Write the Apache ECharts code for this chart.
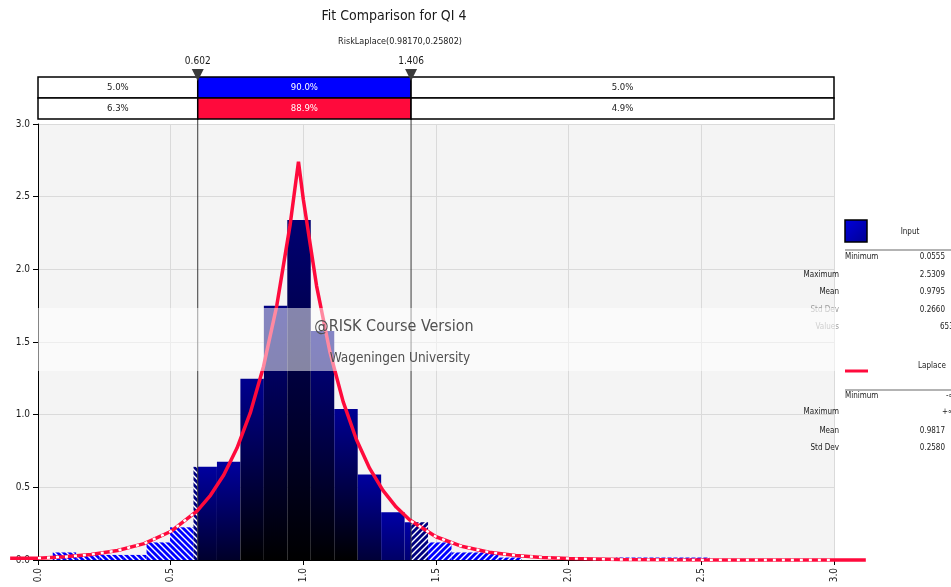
<!DOCTYPE html>
<html>
<head>
<meta charset="utf-8">
<script src="https://cdn.jsdelivr.net/npm/echarts@6/dist/echarts.min.js"></script>
<style>
html, body { margin: 0; padding: 0; background: #fff; }
#chart { width: 951px; height: 587px; }
</style>
</head>
<body>
<div id="chart"></div>
<script>
// histogram of input data (density per bin)
var binEdges = [0.0555, 0.1439, 0.2323, 0.3208, 0.4092, 0.4976, 0.5860, 0.6744, 0.7628, 0.8512,
    0.9396, 1.0280, 1.1165, 1.2049, 1.2933, 1.3817, 1.4701, 1.5585, 1.6469, 1.7353,
    1.8237, 1.9122, 2.0006, 2.0890, 2.1774, 2.2658, 2.3542, 2.4426, 2.5309];
var binDensity = [0.052, 0.035, 0.035, 0.035, 0.121, 0.225, 0.641, 0.676, 1.247, 1.750,
    2.339, 1.576, 1.039, 0.589, 0.329, 0.260, 0.121, 0.052, 0.052, 0.017,
    0, 0, 0, 0, 0.017, 0.017, 0.017, 0.017];

// fitted Laplace curve (first and last points lie outside the axis)
var fitX = [-0.105, 0, 0.1, 0.2, 0.3, 0.4, 0.5, 0.6, 0.602, 0.65, 0.7, 0.75, 0.8, 0.85, 0.9, 0.95, 0.9817,
    1.0, 1.05, 1.1, 1.15, 1.2, 1.25, 1.3, 1.35, 1.4, 1.406, 1.5, 1.6, 1.7, 1.8, 1.9, 2.0,
    2.2, 2.4, 2.6, 2.8, 3.0, 3.12];
var fitY = [0.012, 0.0126, 0.0218, 0.0378, 0.0653, 0.113, 0.196, 0.338, 0.342, 0.445, 0.585, 0.770, 1.012, 1.332, 1.751, 2.304, 2.741,
    2.480, 1.885, 1.433, 1.090, 0.829, 0.630, 0.479, 0.364, 0.277, 0.268, 0.160, 0.0925, 0.0535, 0.0309, 0.0179, 0.0103,
    0.0035, 0.0012, 0.0004, 0.0001, 0.00004, 0.00002];

var delimiters = [0.602, 1.406];
var delimLabels = ['0.602', '1.406'];
var inputPct = ['5.0%', '90.0%', '5.0%'];
var fitPct = ['6.3%', '88.9%', '4.9%'];
var inputStats = [['Minimum', '0.0555'], ['Maximum', '2.5309'], ['Mean', '0.9795'], ['Std Dev', '0.2660'], ['Values', '653']];
var fitStats = [['Minimum', '-\u221e'], ['Maximum', '+\u221e'], ['Mean', '0.9817'], ['Std Dev', '0.2580']];

var FONT = '"DejaVu Sans Condensed", "DejaVu Sans", sans-serif';
var RED = '#ff0a3c';

function hatch(bg, dir) {
    var c = document.createElement('canvas');
    c.width = 6; c.height = 6;
    var g = c.getContext('2d');
    g.fillStyle = bg;
    g.fillRect(0, 0, 6, 6);
    g.strokeStyle = '#ffffff';
    g.lineWidth = 1.4;
    g.beginPath();
    if (dir > 0) {
        g.moveTo(-1, 7); g.lineTo(7, -1);
        g.moveTo(-4, 4); g.lineTo(4, -4);
        g.moveTo(2, 10); g.lineTo(10, 2);
    } else {
        g.moveTo(-1, -1); g.lineTo(7, 7);
        g.moveTo(-4, 2); g.lineTo(4, 10);
        g.moveTo(2, -4); g.lineTo(10, 4);
    }
    g.stroke();
    return { image: c, repeat: 'repeat' };
}
var hatchL = hatch('#0000ff', -1), hatchR = hatch('#0000ff', 1);
var hatchNL = hatch('#000080', -1), hatchNR = hatch('#000080', 1);

function barFill(h) {
    var t = Math.min(h / 2.4, 1);
    var top = Math.round(0xb0 - t * 0x40);
    var bot = Math.round(0xa0 * Math.max(0, 1 - h / 0.9));
    return new echarts.graphic.LinearGradient(0, 0, 0, 1, [
        { offset: 0, color: 'rgb(0,0,' + top + ')' },
        { offset: 1, color: 'rgb(0,0,' + bot + ')' }
    ]);
}

var bins = [];
for (var i = 0; i < binDensity.length; i++) {
    bins.push([binEdges[i], binEdges[i + 1], binDensity[i]]);
}
var fitAll = fitX.map(function (x, i) { return [x, fitY[i]]; });
var fitData = fitAll.filter(function (d) { return d[0] >= 0 && d[0] <= 3; });
var lo = delimiters[0], hi = delimiters[1];
var fitLeft = fitData.filter(function (d) { return d[0] <= lo; });
var fitRight = fitData.filter(function (d) { return d[0] >= hi; });

function renderBin(params, api) {
    var x0 = api.value(0), x1 = api.value(1), h = api.value(2);
    if (h <= 0) return;
    var yb = api.coord([x0, 0])[1], yt = api.coord([x0, h])[1];
    var straddle = (x0 < lo && x1 > lo) || (x0 < hi && x1 > hi);
    var parts = [];
    function seg(a, b, fill) {
        if (b <= a) return;
        var pa = api.coord([a, 0])[0], pb = api.coord([b, 0])[0];
        parts.push({ type: 'rect', shape: { x: pa, y: yt, width: pb - pa, height: yb - yt }, style: { fill: fill } });
    }
    seg(x0, Math.min(x1, lo), straddle ? hatchNL : hatchL);
    seg(Math.max(x0, lo), Math.min(x1, hi), barFill(h));
    seg(Math.max(x0, hi), x1, straddle ? hatchNR : hatchR);
    return { type: 'group', children: parts };
}

var chart = echarts.init(document.getElementById('chart'), null, { renderer: 'canvas' });
chart.setOption({
    animation: false,
    backgroundColor: '#ffffff',
    grid: {
        left: 38, right: 117, top: 124, bottom: 27,
        show: true, backgroundColor: '#f4f4f4', borderWidth: 0,
        outerBoundsMode: 'none'
    },
    xAxis: {
        type: 'value', min: 0, max: 3, interval: 0.5,
        axisLine: { show: true, onZero: false, lineStyle: { color: '#000', width: 1 } },
        axisTick: { show: true, length: 5, lineStyle: { color: '#000' } },
        axisLabel: { rotate: 90, fontSize: 10, fontFamily: FONT, color: '#1a1a1a', margin: 8,
            formatter: function (v) { return v.toFixed(1); } },
        splitLine: { show: true, lineStyle: { color: '#dadada', width: 1 } }
    },
    yAxis: {
        type: 'value', min: 0, max: 3, interval: 0.5,
        axisLine: { show: true, lineStyle: { color: '#000', width: 1 } },
        axisTick: { show: true, length: 5, lineStyle: { color: '#000' } },
        axisLabel: { fontSize: 10, fontFamily: FONT, color: '#1a1a1a', margin: 8,
            formatter: function (v) { return v.toFixed(1); } },
        splitLine: { show: true, lineStyle: { color: '#dadada', width: 1 } }
    },
    series: [{
        type: 'custom',
        renderItem: renderBin,
        data: bins,
        encode: { x: [0, 1], y: 2 },
        z: 2
    }, {
        type: 'line',
        data: fitData,
        symbol: 'none',
        clip: false,
        lineStyle: { color: RED, width: 3.5 },
        z: 5
    }, {
        type: 'line',
        data: fitLeft,
        symbol: 'none',
        clip: false,
        lineStyle: { color: '#ffffff', width: 2.4, type: [3, 6] },
        z: 6
    }, {
        type: 'line',
        data: fitRight,
        symbol: 'none',
        clip: false,
        lineStyle: { color: '#ffffff', width: 2.4, type: [3, 6] },
        z: 6
    }]
});

// overlays: titles, delimiter bars, percentage boxes, legend and watermark
var pxX = function (v) { return chart.convertToPixel({ xAxisIndex: 0 }, v); };
var pxY = function (v) { return chart.convertToPixel({ yAxisIndex: 0 }, v); };
var xL = pxX(0), xR = pxX(3), y0 = pxY(0), yT = pxY(3);
var d1 = pxX(lo), d2 = pxX(hi);
// linear extension of the axis scale, for the curve ends drawn past the axis
var extPt = function (d) { return [xL + d[0] * (xR - xL) / 3, y0 - d[1] * (y0 - yT) / 3]; };
var rowTop = 77, rowMid = 98, rowBot = 119;
var els = [];

function txt(x, y, s, opt) {
    opt = opt || {};
    els.push({
        type: 'text', x: x, y: y, z: opt.z || 20,
        style: {
            text: s, fill: opt.color || '#1a1a1a', font: (opt.size || 10) + 'px ' + FONT,
            align: opt.align || 'center', verticalAlign: 'middle'
        }
    });
}

txt(394, 16, 'Fit Comparison for QI 4', { size: 14 });
txt(400, 42, 'RiskLaplace(0.98170,0.25802)', { size: 9 });

var cols = [[xL, d1], [d1, d2], [d2, xR]];
[[inputPct, rowTop, rowMid, '#0000ff'], [fitPct, rowMid, rowBot, RED]].forEach(function (row) {
    cols.forEach(function (c, j) {
        els.push({
            type: 'rect', z: 15,
            shape: { x: c[0], y: row[1], width: c[1] - c[0], height: row[2] - row[1] },
            style: { fill: j === 1 ? row[3] : '#ffffff', stroke: '#000', lineWidth: 1.5 }
        });
        txt((c[0] + c[1]) / 2, (row[1] + row[2]) / 2 + 0.5, row[0][j], { color: j === 1 ? '#ffffff' : '#1a1a1a', size: 9.5 });
    });
});

[d1, d2].forEach(function (x, i) {
    els.push({ type: 'line', z: 3, shape: { x1: x, y1: rowTop, x2: x, y2: y0 }, style: { stroke: '#3a3a3a', lineWidth: 1 } });
    els.push({ type: 'polygon', z: 16, shape: { points: [[x - 6, 69], [x + 6, 69], [x, 81]] }, style: { fill: '#3c3c3c' } });
    txt(x, 61, delimLabels[i], { size: 10 });
});

// curve ends outside the plotting range
var leftEnd = fitAll.filter(function (d) { return d[0] <= 0; }).map(extPt);
var rightEnd = fitAll.filter(function (d) { return d[0] >= 3; }).map(extPt);
[leftEnd, rightEnd].forEach(function (pts) {
    els.push({ type: 'polyline', z: 25, shape: { points: pts }, style: { stroke: RED, lineWidth: 3.5, fill: null } });
});

// watermark band
els.push({ type: 'rect', z: 30, shape: { x: xL, y: 308, width: xR - xL + 2, height: 63 }, style: { fill: 'rgba(255,255,255,0.52)' } });
txt(394, 327, '@RISK Course Version', { size: 16, color: '#505050', z: 31 });
txt(400, 358, 'Wageningen University', { size: 13.5, color: '#505050', z: 31 });

// legend: input
els.push({
    type: 'rect', z: 20, shape: { x: 845, y: 220, width: 22, height: 22 },
    style: {
        fill: new echarts.graphic.LinearGradient(0, 0, 1, 1, [{ offset: 0, color: '#0000e0' }, { offset: 1, color: '#000090' }]),
        stroke: '#000', lineWidth: 1.5
    }
});
txt(910, 232, 'Input', { size: 8 });
els.push({ type: 'line', z: 20, shape: { x1: 845, y1: 250, x2: 951, y2: 250 }, style: { stroke: '#9a9a9a', lineWidth: 1.5 } });
var inY = [257, 275, 292, 310, 327];
inputStats.forEach(function (s, i) {
    var faded = i >= 3;
    if (i === 0) txt(845, inY[i], s[0], { size: 8, align: 'left' });
    else txt(839, inY[i], s[0], { size: 8, align: 'right', color: faded ? '#9a9a9a' : '#1a1a1a' });
    if (i === 4) txt(940, inY[i], s[1], { size: 8, align: 'left' });
    else txt(945, inY[i], s[1], { size: 8, align: 'right' });
});

// legend: fit
els.push({ type: 'line', z: 20, shape: { x1: 845, y1: 371, x2: 868, y2: 371 }, style: { stroke: RED, lineWidth: 3 } });
txt(932, 366, 'Laplace', { size: 8 });
els.push({ type: 'line', z: 20, shape: { x1: 845, y1: 390, x2: 951, y2: 390 }, style: { stroke: '#9a9a9a', lineWidth: 1.5 } });
var fitYs = [396, 412, 431, 448];
fitStats.forEach(function (s, i) {
    if (i === 0) txt(845, fitYs[i], s[0], { size: 8, align: 'left' });
    else txt(839, fitYs[i], s[0], { size: 8, align: 'right' });
    if (i < 2) txt(i === 0 ? 946 : 942, fitYs[i], s[1], { size: 8, align: 'left' });
    else txt(945, fitYs[i], s[1], { size: 8, align: 'right' });
});

chart.setOption({ graphic: { elements: els } });
</script>
</body>
</html>
